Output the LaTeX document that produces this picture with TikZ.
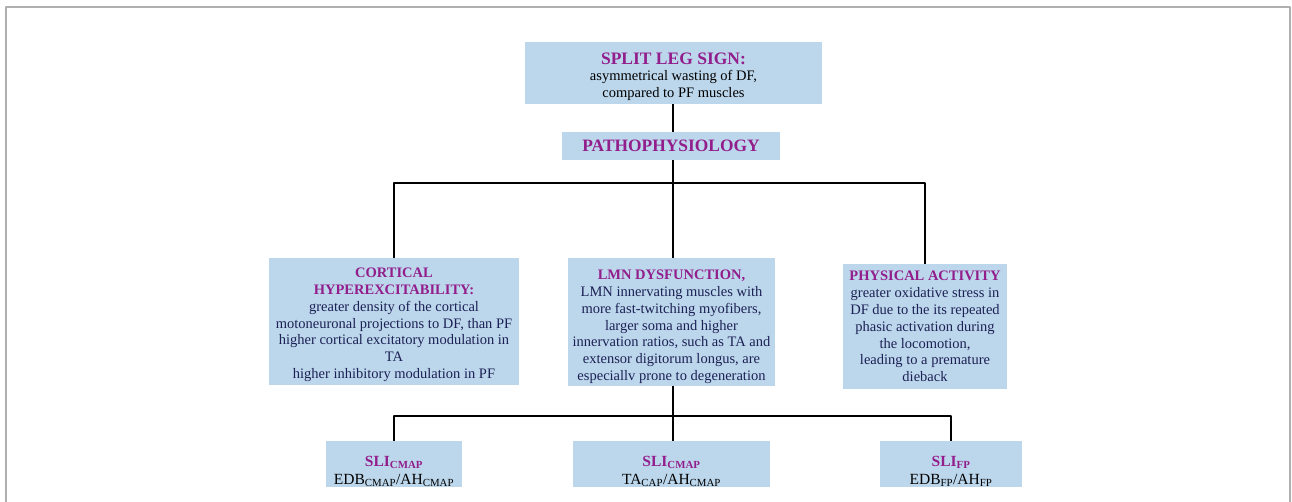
\documentclass[tikz,border=0pt]{standalone}
\usepackage{fontspec}
\setmainfont{Liberation Serif}
\definecolor{boxblue}{RGB}{188,215,236}
\definecolor{headpurple}{RGB}{146,30,140}
\definecolor{bodynavy}{RGB}{28,32,84}
\definecolor{framegrey}{RGB}{175,175,175}
\newcommand{\head}[1]{{\color{headpurple}\bfseries #1}}
\newcommand{\topgap}[1]{\rule{0pt}{#1}}

\begin{document}
\begin{tikzpicture}[
  x=1pt, y=-1pt,
  line join=round,
  box/.style={fill=boxblue, inner sep=0pt, align=center, text=bodynavy,
    font=\fontsize{14.5}{16.8}\selectfont},
  sli/.style={box, text=black, font=\fontsize{15.5}{18}\selectfont},
  link/.style={line width=1.6pt},
]
\useasboundingbox (0,0) rectangle (1292,502);

% the frame round the figure
\draw[framegrey, line width=1.4pt] (6,502) -- (6,7) -- (1290,7) -- (1290,502);

% the sign and its cause
\node[box, minimum width=297, minimum height=62] (split) at (673.5,73)
  {\topgap{19pt}{\fontsize{17.5}{19}\selectfont\head{SPLIT LEG SIGN:}}\\[-0.5pt]
   {\color{black}asymmetrical wasting of DF,}\\{\color{black}compared to PF muscles}};
\node[box, minimum width=218, minimum height=28] (patho) at (671,146)
  {\fontsize{17.4}{19}\selectfont\head{PATHOPHYSIOLOGY}};

% the three mechanisms
\node[box, minimum width=250, minimum height=127] (cortical) at (394,321.5)
  {\topgap{16.5pt}\head{CORTICAL}\\\head{HYPEREXCITABILITY:}\\greater density of the cortical\\
   motoneuronal projections to DF, than PF\\higher cortical excitatory modulation in\\
   TA\\higher inhibitory modulation in PF};
\node[box, minimum width=207, minimum height=128] (lmn) at (671.5,322)
  {\topgap{19.5pt}\head{LMN DYSFUNCTION,}\\LMN innervating muscles with\\more fast-twitching myofibers,\\
   larger soma and higher\\innervation ratios, such as TA and\\
   extensor digitorum longus, are\\especiallv prone to degeneration};
\node[box, minimum width=164, minimum height=125] (activity) at (925,326.5)
  {\head{PHYSICAL ACTIVITY}\\greater oxidative stress in\\DF due to the its repeated\\
   phasic activation during\\the locomotion,\\leading to a premature\\dieback};

% the indices
\node[sli, minimum width=136, minimum height=46] (sliA) at (394,464)
  {\topgap{25pt}\head{SLI\textsubscript{CMAP}}\\EDB\textsubscript{CMAP}/AH\textsubscript{CMAP}};
\node[sli, minimum width=197, minimum height=46] (sliB) at (671.5,464)
  {\topgap{25pt}\head{SLI\textsubscript{CMAP}}\\TA\textsubscript{CAP}/AH\textsubscript{CMAP}};
\node[sli, minimum width=142, minimum height=46] (sliC) at (951,464)
  {\topgap{25pt}\head{SLI\textsubscript{FP}}\\EDB\textsubscript{FP}/AH\textsubscript{FP}};

% the tree
\coordinate (upper) at (673,183);
\coordinate (lower) at (673,416);
\draw[link] (split.south -| upper) -- (patho.north -| upper);
\draw[link] (patho.south -| upper) -- (lmn.north -| upper);
\draw[link] (cortical.north) -- (cortical.north |- upper)
  -- (activity.north |- upper) -- (activity.north);
\draw[link] (lmn.south -| lower) -- (sliB.north -| lower);
\draw[link] (sliA.north) -- (sliA.north |- lower)
  -- (sliC.north |- lower) -- (sliC.north);
\end{tikzpicture}
\end{document}
